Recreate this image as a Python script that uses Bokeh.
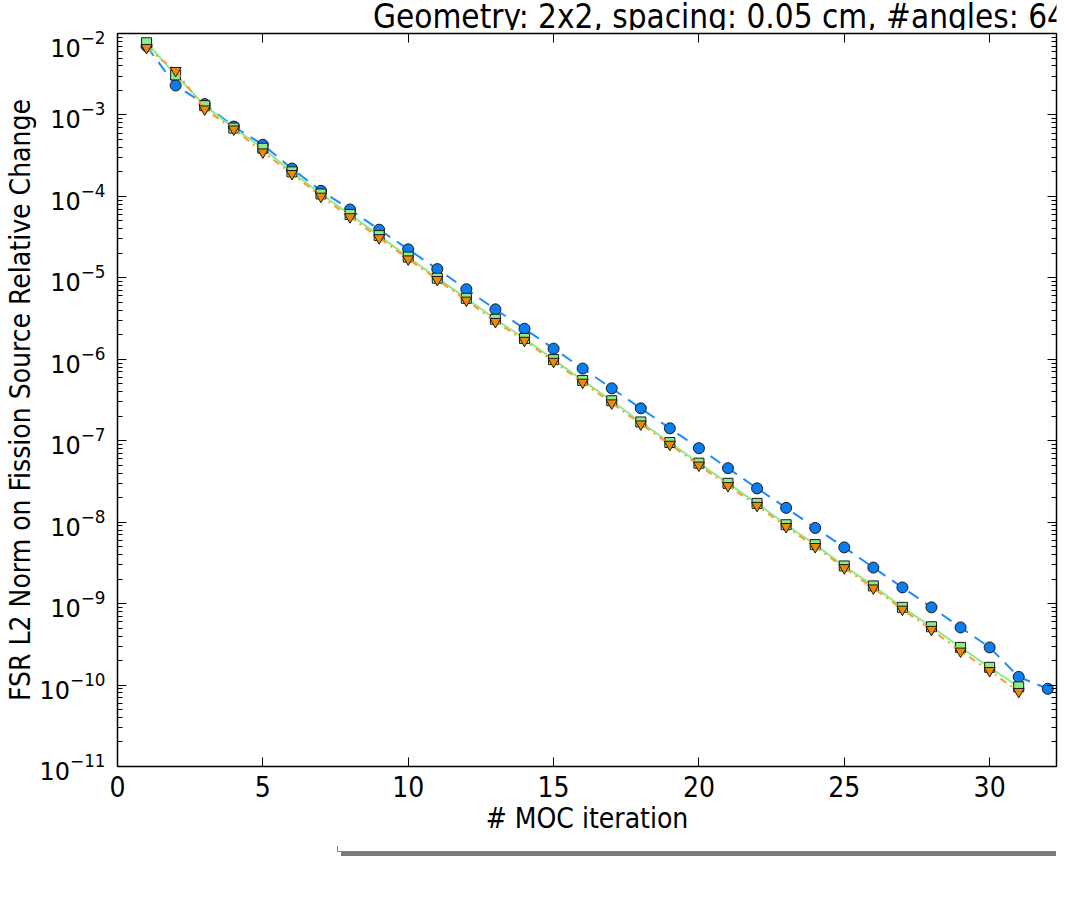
from bokeh.plotting import figure
from bokeh.layouts import column
from bokeh.models import (Legend, LegendItem, LinearAxis, FixedTicker, Label,
                          Range1d, LogTickFormatter, CustomJSTickFormatter)
from bokeh.embed import file_html
from bokeh.resources import INLINE

# ---------------- data ----------------
iter_cmfd = list(range(1, 33))
cmfd_damp07 = [7.0e-3, 2.3e-3, 1.36e-3, 7.2e-4, 4.3e-4, 2.2e-4, 1.17e-4, 6.9e-5,
               3.9e-5, 2.24e-5, 1.28e-5, 7.25e-6, 4.1e-6, 2.37e-6, 1.35e-6, 7.7e-7,
               4.4e-7, 2.5e-7, 1.42e-7, 8.1e-8, 4.6e-8, 2.6e-8, 1.5e-8, 8.5e-9,
               4.9e-9, 2.77e-9, 1.58e-9, 9.0e-10, 5.1e-10, 2.9e-10, 1.26e-10, 9.0e-11]

iter_loo = list(range(1, 32))
loo1_damp10 = [7.7e-3, 3.1e-3, 1.3e-3, 6.9e-4, 3.9e-4, 2.0e-4, 1.07e-4, 6.0e-5,
               3.3e-5, 1.8e-5, 9.9e-6, 5.6e-6, 3.1e-6, 1.8e-6, 9.9e-7, 5.5e-7,
               3.1e-7, 1.7e-7, 9.5e-8, 5.3e-8, 3.0e-8, 1.7e-8, 9.3e-9, 5.3e-9,
               2.9e-9, 1.65e-9, 9.0e-10, 5.2e-10, 2.9e-10, 1.65e-10, 9.5e-11]
loo2_damp10 = [6.7e-3, 3.5e-3, 1.18e-3, 6.7e-4, 3.5e-4, 1.9e-4, 1.0e-4, 5.6e-5,
               3.1e-5, 1.7e-5, 9.5e-6, 5.3e-6, 2.9e-6, 1.7e-6, 9.4e-7, 5.2e-7,
               2.9e-7, 1.6e-7, 9.0e-8, 5.0e-8, 2.8e-8, 1.6e-8, 8.8e-9, 5.0e-9,
               2.75e-9, 1.55e-9, 8.5e-10, 4.8e-10, 2.6e-10, 1.5e-10, 8.3e-11]

series_labels = ["cmfd damp 0.7", "loo1 damp 1.0", "loo2 damp 1.0"]
x_ticks = [0, 5, 10, 15, 20, 25, 30]
y_exponents = list(range(-11, -1))

title_text = "Geometry: 2x2, spacing: 0.05 cm, #angles: 64"
x_label = "# MOC iteration"
y_label = "FSR L2 Norm on Fission Source Relative Change"

# ---------------- styles ----------------
cond = "DejaVu Sans Condensed"
edge = "#1a1a1a"
styles = [
    dict(line_color="#1E8CFF", line_dash="12 8", marker="circle", size=11, fill_color="#0A7DF0"),
    dict(line_color="#8CEC8C", line_dash="solid", marker="square", size=10, fill_color="#8CEC8C"),
    dict(line_color="#FF9A30", line_dash="7 5 2 5", marker="inverted_triangle", size=11, fill_color="#F08A00"),
]
series = [(iter_cmfd, cmfd_damp07), (iter_loo, loo1_damp10), (iter_loo, loo2_damp10)]

W = 1058

def draw_series(fig):
    out = []
    for (xs, ys), st in zip(series, styles):
        ln = fig.line(xs, ys, line_color=st["line_color"], line_width=2, line_dash=st["line_dash"])
        sc = fig.scatter(xs, ys, marker=st["marker"], size=st["size"],
                         fill_color=st["fill_color"], line_color=edge, line_width=1)
        out.append([ln, sc])
    return out

# ---------------- title strip ----------------
tfig = figure(width=W, height=30, x_range=Range1d(0, 1), y_range=Range1d(0, 1),
              output_backend="svg", toolbar_location=None, min_border=0,
              x_axis_location=None, y_axis_location=None)
tfig.outline_line_color = None
tfig.grid.visible = False
tfig.add_layout(Label(x=602, y=14, x_units="screen", y_units="screen", text=title_text,
                      text_align="center", text_baseline="middle", text_font=cond,
                      text_font_size="33px", text_color="black"))

# ---------------- main plot ----------------
y_major = [10.0 ** e for e in y_exponents]
y_minor = [k * 10.0 ** e for e in y_exponents[:-1] for k in range(2, 10)]

p = figure(width=W, height=816, y_axis_type="log",
           x_range=Range1d(0, 32.3), y_range=Range1d(1e-11, 1e-2),
           output_backend="svg", toolbar_location=None,
           min_border_left=116, min_border_right=2, min_border_top=3,
           min_border_bottom=80)
p.background_fill_color = "white"
p.border_fill_color = "white"
p.outline_line_color = "black"
p.outline_line_width = 1.5
p.grid.visible = False

xa = p.xaxis[0]
xa.ticker = FixedTicker(ticks=x_ticks)
xa.axis_label = x_label
xa.axis_label_text_font = cond
xa.axis_label_text_font_size = "28px"
xa.axis_label_text_font_style = "normal"
xa.axis_label_text_color = "black"
xa.axis_label_standoff = 2
xa.major_label_text_font = cond
xa.major_label_text_font_size = "28px"
xa.major_label_text_color = "black"
xa.major_label_standoff = 9
xa.major_tick_in = 9
xa.major_tick_out = 0
xa.minor_tick_line_color = None
xa.axis_line_color = "black"
xa.major_tick_line_color = "black"

ya = p.yaxis[0]
ya.ticker = FixedTicker(ticks=y_major, minor_ticks=y_minor)
ya.formatter = LogTickFormatter()
ya.axis_label = y_label
ya.axis_label_text_font = cond
ya.axis_label_text_font_size = "28px"
ya.axis_label_text_font_style = "normal"
ya.axis_label_text_color = "black"
ya.axis_label_standoff = 0
ya.major_label_text_font = "DejaVu Sans"
ya.major_label_text_font_size = "24px"
ya.major_label_text_color = "black"
ya.major_label_standoff = 12
ya.major_tick_in = 9
ya.major_tick_out = 0
ya.minor_tick_in = 5
ya.minor_tick_out = 0
ya.axis_line_color = "black"
ya.major_tick_line_color = "black"
ya.minor_tick_line_color = "black"

top = LinearAxis(ticker=FixedTicker(ticks=x_ticks), major_tick_in=9, major_tick_out=0,
                 minor_tick_line_color=None, formatter=CustomJSTickFormatter(code="return ''"),
                 major_label_standoff=0, axis_line_color="black", major_tick_line_color="black")
right = LinearAxis(ticker=FixedTicker(ticks=y_major, minor_ticks=y_minor),
                   major_tick_in=9, major_tick_out=0, minor_tick_in=5, minor_tick_out=0,
                   formatter=CustomJSTickFormatter(code="return ''"), major_label_standoff=0,
                   axis_line_color="black", major_tick_line_color="black",
                   minor_tick_line_color="black")
p.add_layout(top, "above")
p.add_layout(right, "right")

draw_series(p)

# ---------------- legend strip ----------------
lfig = figure(width=W, height=45, y_axis_type="log",
              x_range=Range1d(-20, -10), y_range=Range1d(1e-11, 1e-2),
              output_backend="svg", toolbar_location=None, min_border=0,
              x_axis_location=None, y_axis_location=None)
lfig.outline_line_color = None
lfig.grid.visible = False
lrs = draw_series(lfig)

def make_legend(loc, shadow=False):
    lg = Legend(items=[LegendItem(label=lab, renderers=r) for lab, r in zip(series_labels, lrs)],
                orientation="horizontal", location=loc)
    lg.label_text_font = cond
    lg.label_text_font_size = "23px"
    lg.label_text_color = "black"
    lg.glyph_width = 40
    lg.glyph_height = 22
    lg.label_standoff = 18
    lg.spacing = 40
    lg.padding = 5
    lg.margin = 0
    lg.border_line_width = 1.5
    if shadow:
        lg.border_line_color = "#7a7a7a"
        lg.background_fill_color = "#7a7a7a"
        lg.label_text_alpha = 0
    else:
        lg.border_line_color = "black"
        lg.background_fill_color = "white"
    lg.background_fill_alpha = 1.0
    return lg

lfig.add_layout(make_legend((224, 35), shadow=True), "center")
lfig.add_layout(make_legend((220, 39)), "center")

layout = column(tfig, p, lfig, spacing=0)
open("out.html", "w").write(file_html(layout, INLINE))
